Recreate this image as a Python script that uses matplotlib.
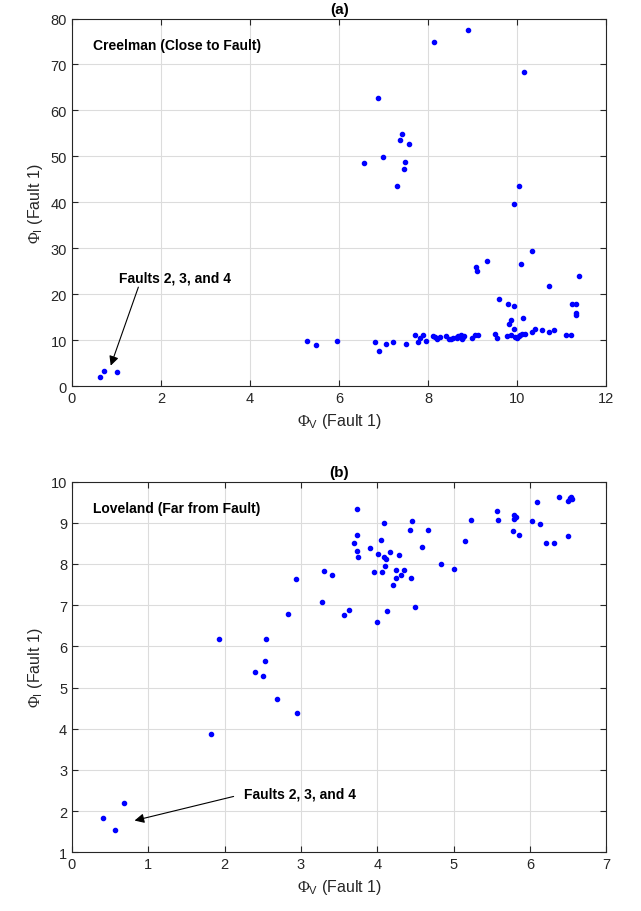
import numpy as np
import matplotlib
matplotlib.use("Agg")
import matplotlib.pyplot as plt

plt.rcParams['font.family'] = ['Liberation Sans', 'DejaVu Sans']
plt.rcParams['mathtext.fontset'] = 'custom'
plt.rcParams['mathtext.rm'] = 'Liberation Serif'
plt.rcParams['mathtext.sf'] = 'Liberation Sans'

# panel (a): Creelman
creel_x = [0.64, 0.72, 1.01, 5.28, 5.48, 5.96,
           7.30, 10.03, 9.93, 10.34, 9.33, 9.08, 9.09, 10.09, 11.39, 10.72, 9.60, 9.79, 9.93,
           11.24, 11.33, 11.33, 11.33, 10.14, 9.86, 9.82, 9.92,
           6.80, 6.90, 7.06, 7.20, 7.50, 7.71, 7.77, 7.81, 7.88, 7.96,
           8.11, 8.16, 8.20, 8.26, 8.40, 8.47, 8.51, 8.55,
           8.64, 8.68, 8.65, 8.73, 8.79, 8.75, 8.81, 8.98, 9.04, 9.12,
           9.51, 9.54, 9.76, 9.87, 9.96, 9.99, 10.03, 10.06, 10.11, 10.17,
           10.34, 10.40, 10.56, 10.71, 10.82, 11.10, 11.21,
           8.90, 8.13, 10.15, 6.88, 7.42, 7.36, 7.57, 6.98, 6.56, 7.47, 7.46]
creel_y = [1.96, 3.26, 3.1, 9.8, 8.9, 9.8,
           43.5, 43.5, 39.6, 29.4, 27.2, 25.9, 25.1, 26.6, 23.9, 21.8, 19.0, 18.0, 17.5,
           17.9, 17.9, 15.9, 15.6, 14.9, 14.5, 13.5, 12.5,
           9.7, 7.6, 9.3, 9.6, 9.3, 11.2, 9.7, 10.6, 11.1, 9.8,
           10.9, 10.7, 10.4, 10.8, 10.9, 10.4, 10.2, 10.6,
           10.8, 10.9, 10.5, 11.1, 10.8, 10.3, 11.0, 10.6, 11.1, 11.1,
           11.3, 10.6, 10.9, 11.2, 10.8, 10.6, 10.9, 11.1, 11.4, 11.4,
           11.9, 12.5, 12.2, 11.9, 12.3, 11.2, 11.2,
           77.4, 74.8, 68.4, 62.7, 54.9, 53.5, 52.8, 49.9, 48.5, 48.9, 47.2]

# panel (b): Loveland
love_x = [0.40, 0.56, 0.68, 1.82, 1.93, 2.40, 2.50, 2.53, 2.54, 2.68, 2.83, 2.93, 2.95,
          3.28, 3.30, 3.41, 3.56, 3.63, 3.74, 3.73, 3.69, 3.73, 3.75,
          3.90, 3.96, 3.99, 4.01, 4.05, 4.06, 4.09, 4.09, 4.12, 4.10, 4.13, 4.16, 4.20,
          4.24, 4.25, 4.28, 4.31, 4.35, 4.43, 4.45, 4.44, 4.50, 4.58, 4.66, 4.84, 5.01,
          5.15, 5.23, 5.57, 5.58, 5.78, 5.79, 5.82, 5.79, 5.86, 6.02, 6.09, 6.13,
          6.21, 6.31, 6.38, 6.50, 6.50, 6.52, 6.54, 6.55, 6.53]
love_y = [1.82, 1.54, 2.19, 3.86, 6.18, 5.38, 5.29, 5.64, 6.19, 4.72, 6.78, 7.63, 4.39,
          7.07, 7.84, 7.73, 6.77, 6.89, 9.33, 8.70, 8.50, 8.31, 8.16,
          8.39, 7.80, 6.60, 8.24, 8.59, 7.80, 9.00, 8.18, 8.11, 7.94, 6.86, 8.30, 7.48,
          7.67, 7.86, 8.21, 7.74, 7.85, 8.82, 9.05, 7.67, 6.95, 8.41, 8.82, 8.00, 7.87,
          8.55, 9.07, 9.28, 9.08, 8.80, 9.20, 9.14, 9.09, 8.71, 9.04, 9.50, 8.96,
          8.51, 8.51, 9.62, 9.54, 8.69, 9.61, 9.62, 9.58, 9.58]

axis_col = '#262626'

fig = plt.figure(figsize=(6.41, 9.12), dpi=100)
ax1 = fig.add_axes([0.1123, 0.5753, 0.8336, 0.4033])
ax2 = fig.add_axes([0.1123, 0.0644, 0.8336, 0.4064])


def style(ax):
    ax.grid(True, color='#dcdcdc', linewidth=0.8)
    ax.set_axisbelow(True)
    ax.tick_params(direction='in', top=True, right=True, colors=axis_col,
                   labelsize=10.5, length=4, width=0.8)
    for s in ax.spines.values():
        s.set_color(axis_col)
        s.set_linewidth(0.8)
    ax.set_xlabel(r'$\Phi_{\mathsf{V}}$ (Fault 1)', fontsize=11.5, color=axis_col)
    ax.set_ylabel(r'$\Phi_{\mathsf{I}}$ (Fault 1)', fontsize=11.5, color=axis_col)


ax1.plot(creel_x, creel_y, '.', color='#0000ff', markersize=6)
ax1.set_xlim(0, 12)
ax1.set_ylim(0, 80)
ax1.set_xticks(np.arange(0, 13, 2))
ax1.set_yticks(np.arange(0, 81, 10))
style(ax1)
ax1.set_title('(a)', fontsize=11, fontweight='bold', pad=4)
ax1.text(0.039, 0.928, 'Creelman (Close to Fault)', transform=ax1.transAxes,
         fontsize=10, fontweight='bold', va='center')
ax1.annotate('Faults 2, 3, and 4', xy=(0.87, 4.5), xytext=(1.06, 23.7),
             fontsize=10, fontweight='bold', va='center', ha='left',
             arrowprops=dict(arrowstyle='-|>', color='black', lw=0.8,
                             mutation_scale=14, shrinkA=0, shrinkB=0,
                             relpos=(0.18, 0.0)))

ax2.plot(love_x, love_y, '.', color='#0000ff', markersize=6)
ax2.set_xlim(0, 7)
ax2.set_ylim(1, 10)
ax2.set_xticks(np.arange(0, 8, 1))
ax2.set_yticks(np.arange(1, 11, 1))
style(ax2)
ax2.set_title('(b)', fontsize=11, fontweight='bold', pad=4)
ax2.text(0.039, 0.928, 'Loveland (Far from Fault)', transform=ax2.transAxes,
         fontsize=10, fontweight='bold', va='center')
ax2.annotate('Faults 2, 3, and 4', xy=(0.82, 1.77), xytext=(2.26, 2.42),
             fontsize=10, fontweight='bold', va='center', ha='left',
             arrowprops=dict(arrowstyle='-|>', color='black', lw=0.8,
                             mutation_scale=14, shrinkA=6, shrinkB=0,
                             relpos=(0.0, 0.5)))

fig.savefig('out.png', dpi=100)
